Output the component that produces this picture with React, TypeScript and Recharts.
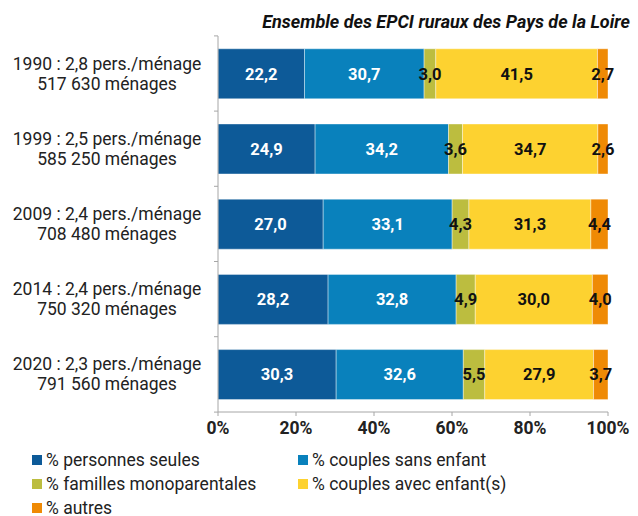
import React from 'react';
import { BarChart, Bar, XAxis, YAxis, LabelList } from 'recharts';

const years = ['1990', '1999', '2009', '2014', '2020'];
const sizes = ['2,8', '2,5', '2,4', '2,4', '2,3'];
const households = ['517 630', '585 250', '708 480', '750 320', '791 560'];

const personnesSeules = [22.2, 24.9, 27.0, 28.2, 30.3];
const couplesSansEnfant = [30.7, 34.2, 33.1, 32.8, 32.6];
const famillesMono = [3.0, 3.6, 4.3, 4.9, 5.5];
const couplesAvecEnfants = [41.5, 34.7, 31.3, 30.0, 27.9];
const autres = [2.7, 2.6, 4.4, 4.0, 3.7];

const xTicks = [0, 0.2, 0.4, 0.6, 0.8, 1];

const series = [
  { key: 'seules', name: '% personnes seules', color: '#0D5A98', label: '#fff' },
  { key: 'sans', name: '% couples sans enfant', color: '#0981BC', label: '#fff' },
  { key: 'mono', name: '% familles monoparentales', color: '#BCBD3F', label: '#111' },
  { key: 'avec', name: '% couples avec enfant(s)', color: '#FDD230', label: '#111' },
  { key: 'autres', name: '% autres', color: '#EF8A05', label: '#111' },
];

const data = years.map((y, i) => ({
  cat: `${y} : ${sizes[i]} pers./ménage|${households[i]} ménages`,
  seules: personnesSeules[i],
  sans: couplesSansEnfant[i],
  mono: famillesMono[i],
  avec: couplesAvecEnfants[i],
  autres: autres[i],
}));

const fmt = (v: any) => Number(v).toFixed(1).replace('.', ',');

// two-line category label + small marks between the bands
const CatTick = (props: any) => {
  const { x, y, payload, index } = props;
  const [l1, l2] = String(payload.value).split('|');
  const half = 37.7;
  return (
    <g>
      <line x1={x + 4} x2={x + 8} y1={y - half} y2={y - half} stroke="#a6a6a6" />
      {index === years.length - 1 && (
        <line x1={x + 4} x2={x + 8} y1={y + half} y2={y + half} stroke="#a6a6a6" />
      )}
      <text x={107} y={y - 4} textAnchor="middle" fontSize={17.5} fill="#222">{l1}</text>
      <text x={107} y={y + 16} textAnchor="middle" fontSize={17.5} fill="#222">{l2}</text>
    </g>
  );
};

const LegendBox = () => (
  <div
    style={{
      position: 'absolute',
      left: 32,
      top: 449,
      display: 'grid',
      gridTemplateColumns: '266px 300px',
      rowGap: 3,
    }}
  >
    {series.map((s) => (
      <div key={s.key} style={{ display: 'flex', alignItems: 'center', fontSize: 17.5, color: '#222', height: 21, whiteSpace: 'nowrap' }}>
        <span style={{ width: 10, height: 10, background: s.color, marginRight: 4, display: 'inline-block' }} />
        {s.name}
      </div>
    ))}
  </div>
);

export default function App() {
  return (
    <div style={{ position: 'absolute', left: 0, top: 0, width: 638, height: 516, background: '#fff', fontFamily: 'Roboto, sans-serif' }}>
      <div style={{ position: 'absolute', right: 8, top: 11, fontSize: 18, fontWeight: 700, fontStyle: 'italic', color: '#111', whiteSpace: 'nowrap' }}>
        Ensemble des EPCI ruraux des Pays de la Loire
      </div>
      <BarChart
        width={638}
        height={516}
        data={data}
        layout="vertical"
        stackOffset="expand"
        barCategoryGap="17%"
        margin={{ top: 36, right: 30, left: 8, bottom: 74 }}
        style={{ fontFamily: 'Roboto, sans-serif' }}
      >
        <XAxis
          type="number"
          domain={[0, 1]}
          ticks={xTicks}
          tickFormatter={(v: number) => `${Math.round(v * 100)}%`}
          stroke="#a6a6a6"
          tick={{ fill: '#222', fontSize: 17.5, fontWeight: 700 }}
          tickSize={4}
          tickMargin={6}
          height={30}
        />
        <YAxis
          type="category"
          dataKey="cat"
          width={210}
          stroke="#a6a6a6"
          tickLine={false}
          tick={<CatTick />}
        />
        {series.map((s) => (
          <Bar key={s.key} dataKey={s.key} name={s.name} stackId="a" fill={s.color} stroke="#ffffff" strokeWidth={0.4} isAnimationActive={false}>
            <LabelList dataKey={s.key} position="center" formatter={fmt} fill={s.label} fontSize={16.5} fontWeight={700} />
          </Bar>
        ))}
      </BarChart>
      <LegendBox />
    </div>
  );
}
